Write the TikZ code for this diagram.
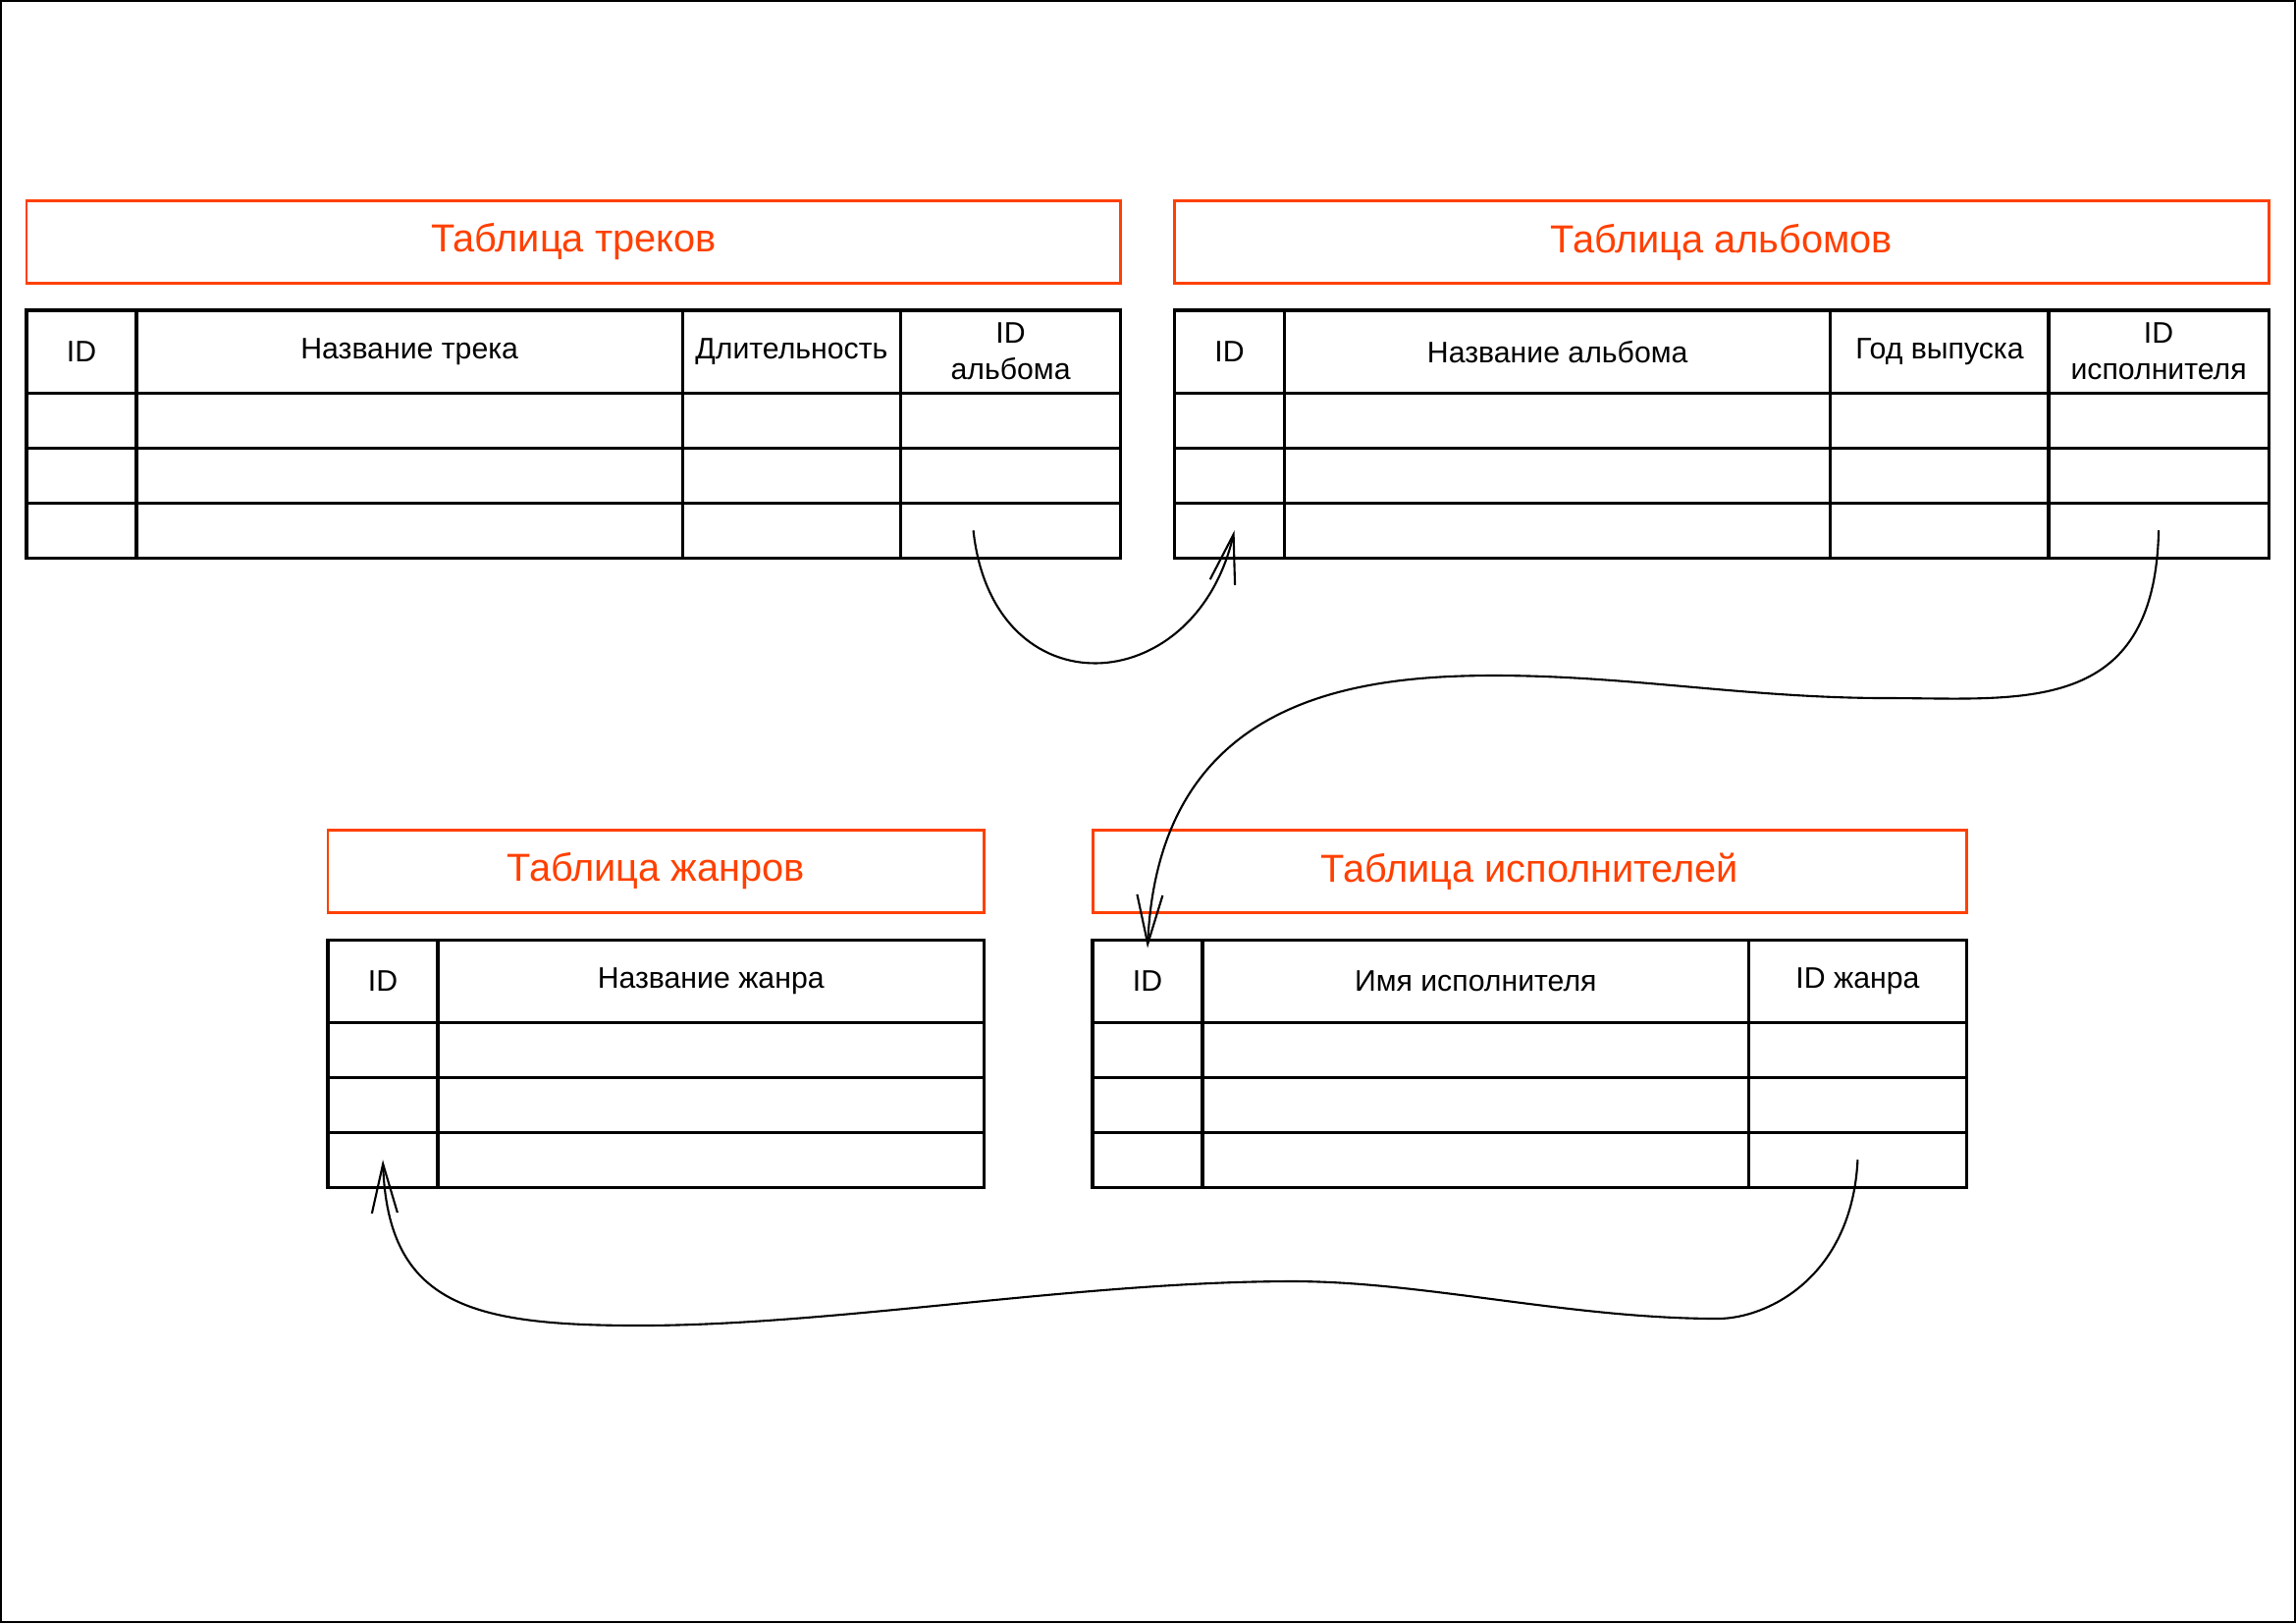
\documentclass[tikz,border=0pt]{standalone}
\usepackage{fontspec}
\setmainfont{Liberation Sans}
\usetikzlibrary{positioning,arrows.meta}
\definecolor{titlered}{HTML}{FF4000}
\tikzset{
  tabtitle/.style={draw=titlered, line width=0.85pt, text=titlered, outer sep=0pt, inner sep=0pt,
    minimum height=0.84cm, anchor=north west, font=\fontsize{11.3}{13.5}\selectfont},
  hcell/.style={draw, line width=0.9pt, outer sep=0pt, inner sep=0pt, minimum height=0.84cm,
    align=center, font=\fontsize{8.6}{10.5}\selectfont},
  cell/.style={draw, line width=0.9pt, outer sep=0pt, inner sep=0pt, minimum height=0.56cm},
  fk/.style={line width=0.6pt, -{Straight Barb[length=5mm,width=2.6mm]}}
}
\begin{document}
\begin{tikzpicture}[x=0.01cm,y=-0.01cm]
  \useasboundingbox (0,0) rectangle (2339,1653);
  \draw[line width=0.6pt] (1,1) rectangle (2338,1652);

  % tracks
  \node[tabtitle, minimum width=11.14cm] (trk) at (27,204.5) {Таблица треков};
  \node[hcell, minimum width=1.12cm, anchor=north west] (trk-id) at ([yshift=-2.75mm]trk.south west) {ID};
  \node[hcell, minimum width=5.56cm, right=0pt of trk-id] (trk-name) {Название трека};
  \node[hcell, minimum width=2.22cm, right=0pt of trk-name] (trk-dur) {Длительность};
  \node[hcell, minimum width=2.24cm, right=0pt of trk-dur] (trk-alb) {ID\\альбома};
  \foreach \c/\w in {id/1.12,name/5.56,dur/2.22,alb/2.24} {
    \node[cell, minimum width=\w cm, below=0pt of trk-\c] (trk-\c-1) {};
    \node[cell, minimum width=\w cm, below=0pt of trk-\c-1] (trk-\c-2) {};
    \node[cell, minimum width=\w cm, below=0pt of trk-\c-2] (trk-\c-3) {};
  }

  % albums
  \node[tabtitle, minimum width=11.14cm] (alb) at (1196.5,204.5) {Таблица альбомов};
  \node[hcell, minimum width=1.12cm, anchor=north west] (alb-id) at ([yshift=-2.75mm]alb.south west) {ID};
  \node[hcell, minimum width=5.56cm, right=0pt of alb-id] (alb-name) {Название альбома};
  \node[hcell, minimum width=2.22cm, right=0pt of alb-name] (alb-year) {Год выпуска};
  \node[hcell, minimum width=2.24cm, right=0pt of alb-year] (alb-art) {ID\\исполнителя};
  \foreach \c/\w in {id/1.12,name/5.56,year/2.22,art/2.24} {
    \node[cell, minimum width=\w cm, below=0pt of alb-\c] (alb-\c-1) {};
    \node[cell, minimum width=\w cm, below=0pt of alb-\c-1] (alb-\c-2) {};
    \node[cell, minimum width=\w cm, below=0pt of alb-\c-2] (alb-\c-3) {};
  }

  % genres
  \node[tabtitle, minimum width=6.68cm] (gen) at (334,845.5) {Таблица жанров};
  \node[hcell, minimum width=1.12cm, anchor=north west] (gen-id) at ([yshift=-2.75mm]gen.south west) {ID};
  \node[hcell, minimum width=5.56cm, right=0pt of gen-id] (gen-name) {Название жанра};
  \foreach \c/\w in {id/1.12,name/5.56} {
    \node[cell, minimum width=\w cm, below=0pt of gen-\c] (gen-\c-1) {};
    \node[cell, minimum width=\w cm, below=0pt of gen-\c-1] (gen-\c-2) {};
    \node[cell, minimum width=\w cm, below=0pt of gen-\c-2] (gen-\c-3) {};
  }

  % artists
  \node[tabtitle, minimum width=8.90cm] (art) at (1113,845.5) {Таблица исполнителей};
  \node[hcell, minimum width=1.12cm, anchor=north west] (art-id) at ([yshift=-2.75mm]art.south west) {ID};
  \node[hcell, minimum width=5.56cm, right=0pt of art-id] (art-name) {Имя исполнителя};
  \node[hcell, minimum width=2.22cm, right=0pt of art-name] (art-gen) {ID жанра};
  \foreach \c/\w in {id/1.12,name/5.56,gen/2.22} {
    \node[cell, minimum width=\w cm, below=0pt of art-\c] (art-\c-1) {};
    \node[cell, minimum width=\w cm, below=0pt of art-\c-1] (art-\c-2) {};
    \node[cell, minimum width=\w cm, below=0pt of art-\c-2] (art-\c-3) {};
  }

  \begin{scope}[fk]
    \draw ([xshift=-3.8mm]trk-alb-3.center) .. controls +(20,185) and +(-40,174) .. ([xshift=0.5mm]alb-id-3.center);
    \draw (alb-art-3.center) .. controls +(-4,190) and +(138,0) .. (1922,711)
      .. controls +(-142,0) and +(138,0) .. (1522,688)
      .. controls +(-150,0) and +(11,-250) .. ([yshift=-0.85mm]art-id.north);
    \draw (art-gen-3.center) .. controls +(-6,120) and +(50,0) .. (1750,1343)
      .. controls +(-150,0) and +(133,0) .. (1317,1305)
      .. controls +(-217,0) and +(198,0) .. (652,1350)
      .. controls +(-172,0) and +(5,148) .. (gen-id-3.center);
  \end{scope}
\end{tikzpicture}
\end{document}
